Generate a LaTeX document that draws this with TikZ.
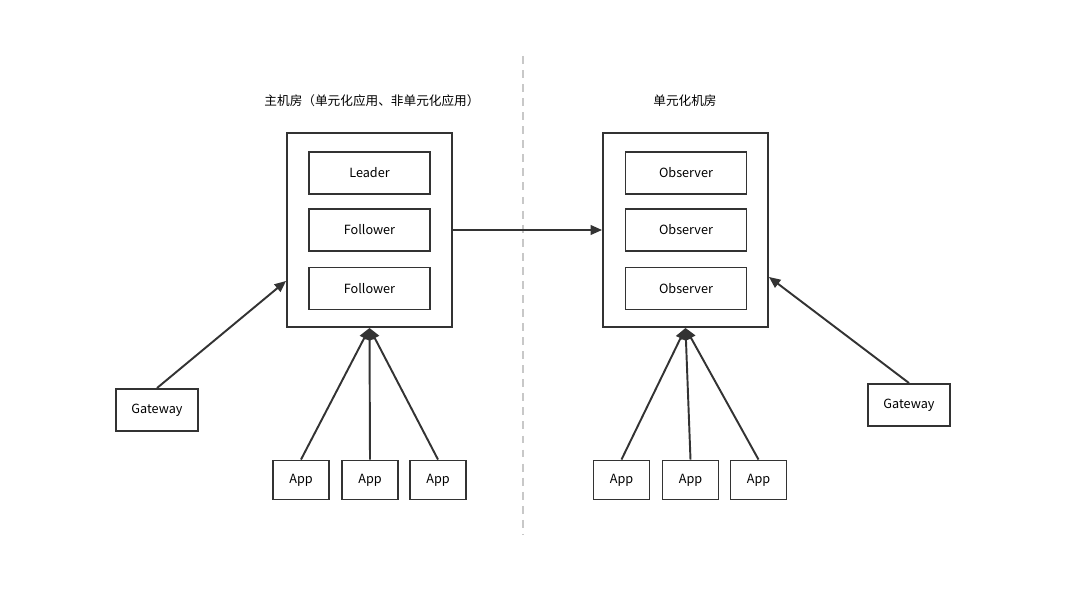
\documentclass[tikz,border=0pt]{standalone}
\usepackage{fontspec}
\setmainfont{Noto Sans CJK SC}
\usetikzlibrary{arrows.meta,positioning}

\definecolor{linegray}{HTML}{333333}
\definecolor{sepgray}{HTML}{C8C8C8}

\begin{document}
\begin{tikzpicture}[x=0.02cm,y=-0.02cm,
  font=\fontsize{7.2}{9}\selectfont,
  box/.style={draw=linegray,line width=1.1pt,inner sep=0pt},
  room/.style={box,minimum width=3.3cm,minimum height=3.88cm},
  member/.style={box,minimum width=2.42cm,minimum height=0.84cm},
  app/.style={box,minimum width=1.12cm,minimum height=0.78cm},
  gateway/.style={box,minimum width=1.64cm,minimum height=0.84cm},
  link/.style={draw=linegray,line width=1.1pt,-{Triangle[length=6.5pt,width=5.5pt]}}]
  \useasboundingbox (0,0) rectangle (1080,608);
  % separator
  \draw[sepgray,line width=1.2pt,dash pattern=on 4.5pt off 3.5pt] (523,56) -- (523,535);
  % titles
  \node (t1) at (372,101) {主机房（单元化应用、非单元化应用）};
  \node (t2) at (685,101) {单元化机房};
  % rooms
  \node[room] (host) at (369.5,230) {};
  \node[room] (unit) at (685.5,230) {};
  \node[member] (leader) at (369.5,173) {Leader};
  \node[member] (f1) at (369.5,230) {Follower};
  \node[member] (f2) at (369.5,288.5) {Follower};
  \node[member] (o1) at (686,173) {Observer};
  \node[member] (o2) at (686,230) {Observer};
  \node[member] (o3) at (686,288.5) {Observer};
  % clients
  \node[gateway] (gw1) at (157,410) {Gateway};
  \node[gateway] (gw2) at (909,405) {Gateway};
  \node[app] (a1) at (301,480) {App};
  \node[app] (a2) at (370,480) {App};
  \node[app] (a3) at (438,480) {App};
  \node[app] (b1) at (621.5,480) {App};
  \node[app] (b2) at (690.5,480) {App};
  \node[app] (b3) at (758.5,480) {App};
  % links
  \draw[link] (host.east) -- (unit.west);
  \draw[link] (gw1.north) -- ([shift={(0,-47)}]host.south west);
  \draw[link] (gw2.north) -- ([shift={(0,-51)}]unit.south east);
  \foreach \a in {a1,a2,a3} \draw[link] (\a.north) -- (host.south);
  \foreach \b in {b1,b2,b3} \draw[link] (\b.north) -- (unit.south);
\end{tikzpicture}
\end{document}
